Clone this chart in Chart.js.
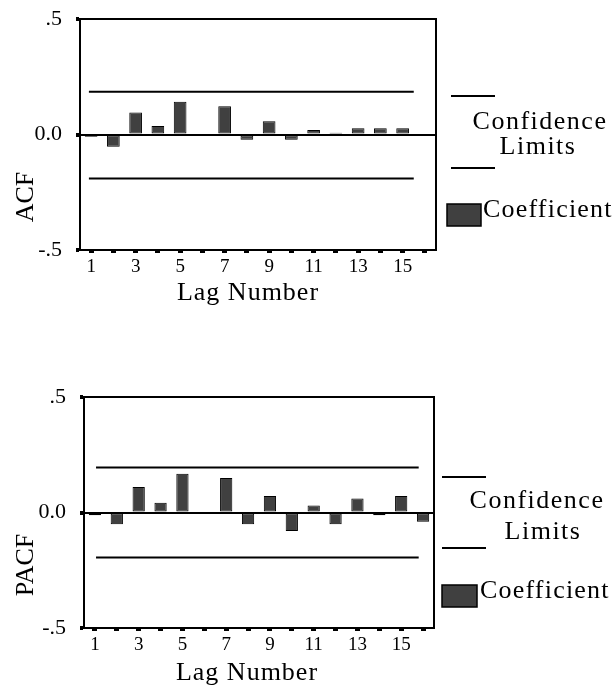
<!DOCTYPE html>
<html>
<head>
<meta charset="utf-8">
<script src="https://cdn.jsdelivr.net/npm/chart.js@4"></script>
<style>
  body { margin: 0; background: #fff; }
  canvas { display: block; }
</style>
</head>
<body>
<canvas id="acfChart" width="614" height="345"></canvas>
<canvas id="pacfChart" width="614" height="345"></canvas>
<script>
// Lags and coefficients
const lags = [1, 2, 3, 4, 5, 6, 7, 8, 9, 10, 11, 12, 13, 14, 15, 16];
const acfValues = [-0.01, -0.053, 0.095, 0.037, 0.142, 0, 0.122, -0.023, 0.057, -0.023, 0.02, 0.008, 0.027, 0.027, 0.027, 0];
const pacfValues = [-0.012, -0.051, 0.11, 0.042, 0.168, 0, 0.149, -0.051, 0.071, -0.08, 0.03, -0.051, 0.061, -0.012, 0.071, -0.04];

// Confidence limits (upper, lower) and the lag range the lines cover
const acfLimits = [0.185, -0.19];
const acfLimitSpan = [0.9, 15.5];
const pacfLimits = [0.195, -0.195];
const pacfLimitSpan = [1.05, 15.8];

const yTickValues = [-0.5, 0, 0.5];
const yTickLabels = ['-.5', '0.0', '.5'];

const serif = '"Liberation Serif", "Times New Roman", serif';

// Frame, axis titles and the legend block on the right
const decor = {
    id: 'decor',
    afterDraw(chart, args, o) {
        const { ctx, chartArea: a } = chart;
        ctx.save();
        ctx.strokeStyle = '#000';
        ctx.fillStyle = '#000';
        ctx.lineWidth = 2;
        ctx.strokeRect(a.left, a.top, a.right - a.left, a.bottom - a.top);

        ctx.font = '26px ' + serif;

        // y title, rotated
        ctx.save();
        ctx.translate(o.yTitle[0], o.yTitle[1]);
        ctx.rotate(-Math.PI / 2);
        ctx.textAlign = 'center';
        ctx.textBaseline = 'middle';
        ctx.fillText(o.yText, 0, 0);
        ctx.restore();

        // x title
        ctx.textAlign = 'center';
        ctx.textBaseline = 'alphabetic';
        ctx.letterSpacing = '1px';
        ctx.fillText('Lag Number', o.xTitle[0], o.xTitle[1]);

        // legend
        const L = o.legend;
        ctx.lineWidth = 2;
        [L.line1, L.line2].forEach(l => {
            ctx.beginPath();
            ctx.moveTo(l[0], l[2]);
            ctx.lineTo(l[1], l[2]);
            ctx.stroke();
        });
        ctx.letterSpacing = '1.5px';
        ctx.fillText('Confidence', L.conf[0], L.conf[1]);
        ctx.fillText('Limits', L.limits[0], L.limits[1]);
        ctx.fillStyle = '#404040';
        ctx.fillRect(L.box[0], L.box[1], L.box[2], L.box[3]);
        ctx.lineWidth = 1.5;
        ctx.strokeRect(L.box[0], L.box[1], L.box[2], L.box[3]);
        ctx.fillStyle = '#000';
        ctx.textAlign = 'left';
        ctx.letterSpacing = '1.2px';
        ctx.fillText('Coefficient', L.coef[0], L.coef[1]);
        ctx.restore();
    }
};

function makeChart(id, values, limits, span, box, decorOpts) {
    // limit lines live on the category axis; x is a (fractional) category index
    const limitSets = limits.map(v => ({
        type: 'line',
        parsing: false,
        data: span.map(lag => ({ x: lag - 1, y: v })),
        borderColor: '#000',
        borderWidth: 2,
        pointRadius: 0,
        fill: false
    }));

    return new Chart(document.getElementById(id), {
        type: 'bar',
        data: {
            labels: lags,
            datasets: [{
                label: 'Coefficient',
                data: values,
                backgroundColor: '#404040',
                borderColor: '#000',
                borderWidth: 1,
                borderSkipped: false,
                grouped: false,
                barPercentage: box.barPct,
                categoryPercentage: 1
            }, ...limitSets]
        },
        options: {
            responsive: false,
            animation: false,
            layout: {
                padding: { left: 0, top: box.top, right: 614 - box.right, bottom: 345 - box.bottom - 30 }
            },
            plugins: {
                legend: { display: false },
                tooltip: { enabled: false },
                decor: decorOpts
            },
            scales: {
                x: {
                    offset: true,
                    afterFit: s => { s.height = 30; },
                    grid: { offset: false, drawOnChartArea: false, color: '#000', tickLength: 3, tickWidth: 5 },
                    border: { color: '#000', width: 2 },
                    ticks: {
                        autoSkip: false,
                        maxRotation: 0,
                        padding: 3,
                        color: '#000',
                        font: { family: serif, size: 19 },
                        callback: (v, i) => (i % 2 === 0 ? lags[i] : '')
                    }
                },
                y: {
                    min: -0.5,
                    max: 0.5,
                    afterFit: s => {
                        s.width = box.left;
                        s.paddingTop = 0;
                        s.paddingBottom = 0;
                    },
                    afterBuildTicks: s => { s.ticks = yTickValues.map(v => ({ value: v })); },
                    grid: {
                        color: c => (c.tick && c.tick.value === 0 ? '#000' : 'rgba(0,0,0,0)'),
                        tickColor: '#000',
                        lineWidth: 2,
                        tickLength: 4,
                        tickWidth: 4
                    },
                    border: { color: '#000', width: 2 },
                    ticks: {
                        padding: 14,
                        color: '#000',
                        font: { family: serif, size: 22 },
                        callback: v => yTickLabels[yTickValues.indexOf(v)]
                    }
                }
            }
        },
        plugins: [decor]
    });
}

makeChart('acfChart', acfValues, acfLimits, acfLimitSpan,
    { left: 80, top: 19, right: 436, bottom: 250, barPct: 0.57 },
    {
        yText: 'ACF',
        yTitle: [26, 197],
        xTitle: [248, 300],
        legend: {
            line1: [451, 495, 96],
            line2: [451, 495, 168],
            conf: [540, 129],
            limits: [538, 154],
            box: [447, 204, 34, 22],
            coef: [483, 217]
        }
    });

makeChart('pacfChart', pacfValues, pacfLimits, pacfLimitSpan,
    { left: 84, top: 52, right: 434, bottom: 283, barPct: 0.56 },
    {
        yText: 'PACF',
        yTitle: [26, 220],
        xTitle: [247, 335],
        legend: {
            line1: [442, 486, 132],
            line2: [442, 486, 203],
            conf: [537, 163],
            limits: [543, 194],
            box: [442, 240, 35, 22],
            coef: [480, 253]
        }
    });
</script>
</body>
</html>
